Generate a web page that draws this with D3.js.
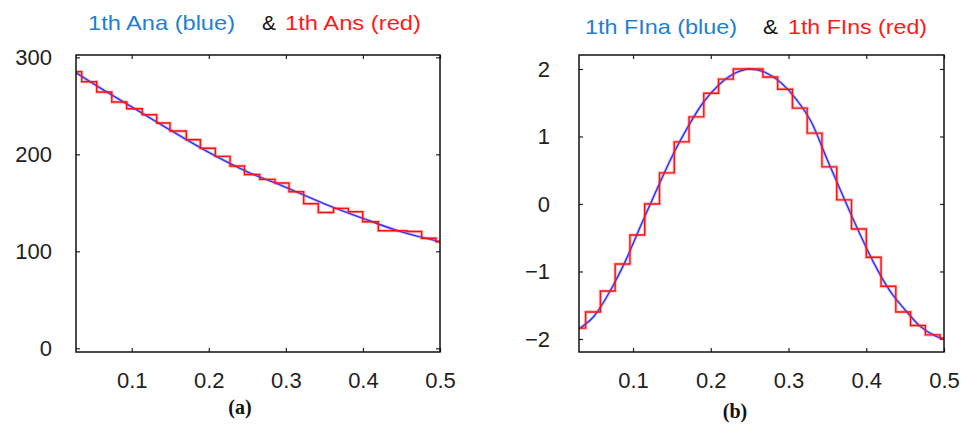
<!DOCTYPE html>
<html>
<head>
<meta charset="utf-8">
<script src="https://cdn.jsdelivr.net/npm/d3@7/dist/d3.min.js"></script>
<style>
body {margin: 0; background: #fff}
</style>
</head>
<body>
<svg></svg>
<script>

var screen = {width: 967, height: 424}

// panel (a): 1th Ana / Ans
var anaX = [0.028, 0.06, 0.10, 0.15, 0.20, 0.25, 0.30, 0.35, 0.40, 0.45, 0.50]
var anaY = [284, 268, 249, 225, 202, 182, 166, 149, 134, 120, 110]

var ansX = [0.0277, 0.0351, 0.0546, 0.0741, 0.0935, 0.1136, 0.1324, 0.1497, 0.1708, 0.1890,
            0.2085, 0.2275, 0.2463, 0.2661, 0.2859, 0.3041, 0.3231, 0.3421, 0.3618, 0.3810,
            0.3997, 0.4199, 0.4386, 0.4568, 0.4762, 0.4948, 0.5]
var ansY = [285.2, 274.8, 264.2, 253.9, 247.0, 240.8, 232.3, 224.0, 215.1, 206.2,
            197.9, 187.9, 179.2, 174.2, 170.4, 161.4, 149.1, 140.0, 144.3, 140.8,
            130.5, 121.2, 121.2, 120.4, 113.4, 109.9, 109.9]

// panel (b): 1th FIna / FIns
var finaX = [0.0305, 0.05, 0.07, 0.09, 0.11, 0.13, 0.15, 0.17, 0.19, 0.21, 0.23, 0.25,
             0.27, 0.29, 0.31, 0.33, 0.35, 0.37, 0.39, 0.41, 0.43, 0.45, 0.47, 0.49, 0.50]
var finaY = [-1.85, -1.66, -1.30, -0.85, -0.32, 0.20, 0.70, 1.13, 1.50, 1.76, 1.93, 2.00,
             1.95, 1.80, 1.55, 1.20, 0.65, 0.12, -0.40, -0.88, -1.28, -1.57, -1.82, -1.96, -2.00]

var finsX = [0.0305, 0.039, 0.058, 0.077, 0.096, 0.115, 0.134, 0.153, 0.172, 0.191,
             0.210, 0.229, 0.248, 0.267, 0.286, 0.305, 0.324, 0.343, 0.362, 0.381,
             0.400, 0.419, 0.438, 0.457, 0.476, 0.495, 0.500]
var finsY = [-1.84, -1.60, -1.29, -0.89, -0.46, 0.00, 0.46, 0.92, 1.29, 1.64,
             1.85, 2.00, 2.00, 1.88, 1.70, 1.42, 1.05, 0.55, 0.06, -0.37,
             -0.79, -1.22, -1.60, -1.80, -1.94, -1.99, -1.99]

var xTicks = [0.1, 0.2, 0.3, 0.4, 0.5]
var yTicksA = [0, 100, 200, 300]
var yTicksB = [-2, -1, 0, 1, 2]

var titleA = ["1th Ana (blue)", "&", "1th Ans (red)"]
var titleB = ["1th FIna (blue)", "&", "1th FIns (red)"]
var captions = ["(a)", "(b)"]

var svg = d3.select("svg")
    .attr("width", screen.width)
    .attr("height", screen.height)

var toPoints = function (xs, ys)
{
    return xs.map(function (x, i) {return {x: x, y: ys[i]}})
}

var drawPanel = function (p)
{
    var xScale = d3.scaleLinear()
        .domain(p.xDomain)
        .range([p.box.left, p.box.right])
    var yScale = d3.scaleLinear()
        .domain(p.yDomain)
        .range([p.box.bottom, p.box.top])

    var g = svg.append("g").attr("class", "panel")

    // axes, ticks pointing inward on all four sides
    var fmt = function (d) {return d < 0 ? "\u2212" + Math.abs(d) : String(d)}

    var bottom = g.append("g")
        .attr("transform", "translate(0," + p.box.bottom + ")")
        .call(d3.axisBottom(xScale).tickValues(xTicks).tickSizeInner(-4).tickSizeOuter(0)
            .tickPadding(20).tickFormat(d3.format(".1f")))
    var top = g.append("g")
        .attr("transform", "translate(0," + p.box.top + ")")
        .call(d3.axisTop(xScale).tickValues(xTicks).tickSizeInner(-4).tickSizeOuter(0).tickFormat(""))
    var left = g.append("g")
        .attr("transform", "translate(" + p.box.left + ",0)")
        .call(d3.axisLeft(yScale).tickValues(p.yTicks).tickSizeInner(-4).tickSizeOuter(0)
            .tickPadding(p.labelPad).tickFormat(fmt))
    var right = g.append("g")
        .attr("transform", "translate(" + p.box.right + ",0)")
        .call(d3.axisRight(yScale).tickValues(p.yTicks).tickSizeInner(-4).tickSizeOuter(0).tickFormat(""))

    ;[bottom, top, left, right].forEach(function (a)
    {
        a.select(".domain").remove()
        a.attr("font-family", "'Liberation Sans', Arial, sans-serif")
            .attr("font-size", 22)
        a.selectAll("line").attr("stroke", "#222").attr("stroke-width", 1.2)
        a.selectAll("text").attr("fill", "#222")
    })

    // lines
    var blueLine = d3.line()
        .x(function (d) {return xScale(d.x)})
        .y(function (d) {return yScale(d.y)})
        .curve(d3.curveMonotoneX)

    var redLine = d3.line()
        .x(function (d) {return xScale(d.x)})
        .y(function (d) {return yScale(d.y)})
        .curve(d3.curveStepAfter)

    g.append("path")
        .datum(toPoints(p.blueX, p.blueY))
        .attr("fill", "none")
        .attr("stroke", "#4a4aff")
        .attr("stroke-opacity", 0.3)
        .attr("stroke-width", 3)
        .attr("d", blueLine)
    g.append("path")
        .datum(toPoints(p.blueX, p.blueY))
        .attr("fill", "none")
        .attr("stroke", "#3030f5")
        .attr("stroke-width", 1.4)
        .attr("d", blueLine)

    g.append("path")
        .datum(toPoints(p.redX, p.redY))
        .attr("fill", "none")
        .attr("stroke", "#ff4040")
        .attr("stroke-opacity", 0.35)
        .attr("stroke-width", 3.2)
        .attr("d", redLine)
    g.append("path")
        .datum(toPoints(p.redX, p.redY))
        .attr("fill", "none")
        .attr("stroke", "#ff1010")
        .attr("stroke-width", 1.4)
        .attr("d", redLine)

    // frame
    g.append("rect")
        .attr("x", p.box.left)
        .attr("y", p.box.top)
        .attr("width", p.box.right - p.box.left)
        .attr("height", p.box.bottom - p.box.top)
        .attr("fill", "none")
        .attr("stroke", "#111")
        .attr("stroke-width", 1.5)

    // title in three coloured pieces
    var colors = ["#1f7fd2", "#111", "#ff1a1a"]
    p.title.forEach(function (t, i)
    {
        g.append("text")
            .attr("x", p.titlePos[i][0])
            .attr("y", p.titleY)
            .attr("textLength", p.titlePos[i][1])
            .attr("lengthAdjust", "spacingAndGlyphs")
            .attr("font-family", "'Liberation Sans', Arial, sans-serif")
            .attr("font-size", 21)
            .attr("fill", colors[i])
            .text(t)
    })

    g.append("text")
        .attr("x", p.caption.x)
        .attr("y", p.caption.y)
        .attr("text-anchor", "middle")
        .attr("font-family", "'Liberation Serif', 'Times New Roman', serif")
        .attr("font-weight", "bold")
        .attr("font-size", 20)
        .attr("fill", "#111")
        .text(p.caption.text)
}

drawPanel({
    box: {left: 76, right: 440, top: 55, bottom: 352},
    xDomain: [0.0277, 0.5],
    yDomain: [-3.8, 302.4],
    yTicks: yTicksA,
    labelPad: 24,
    blueX: anaX, blueY: anaY,
    redX: ansX, redY: ansY,
    title: titleA,
    titlePos: [[88, 147], [262, 14], [285, 136]],
    titleY: 30,
    caption: {text: captions[0], x: 240, y: 414}
})

drawPanel({
    box: {left: 579, right: 944, top: 55, bottom: 352},
    xDomain: [0.0305, 0.5],
    yDomain: [-2.193, 2.207],
    yTicks: yTicksB,
    labelPad: 29,
    blueX: finaX, blueY: finaY,
    redX: finsX, redY: finsY,
    title: titleB,
    titlePos: [[585, 152], [763, 15], [788, 139]],
    titleY: 34,
    caption: {text: captions[1], x: 735, y: 418}
})

</script>
</body>
</html>
